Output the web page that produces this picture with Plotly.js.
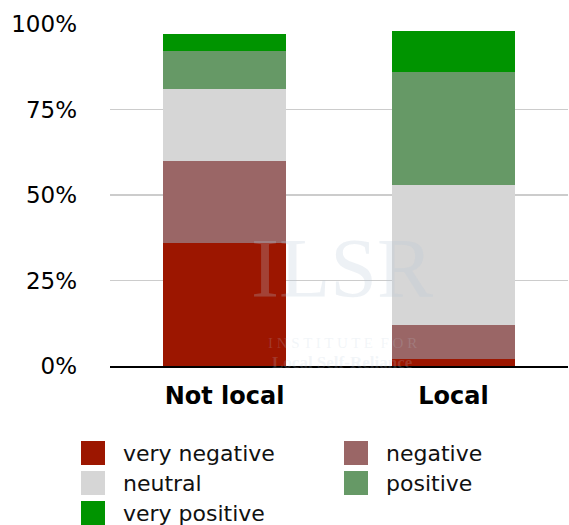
<!DOCTYPE html>
<html>
<head>
<meta charset="utf-8">
<script src="https://cdn.plot.ly/plotly-3.0.1.min.js"></script>
<style>html,body{margin:0;padding:0;background:#fff}#chart{width:569px;height:525px}</style>
</head>
<body>
<div id="chart"></div>
<script>
const categories = ["Not local", "Local"];
const seriesNames = ["very negative", "negative", "neutral", "positive", "very positive"];
const veryNegative = [36, 2];
const negative = [24, 10];
const neutral = [21, 41];
const positive = [11, 33];
const veryPositive = [5, 12];
const yTickVals = [0, 25, 50, 75, 100];
const yTickText = ["0%", "25%", "50%", "75%", "100%"];

const seriesValues = [veryNegative, negative, neutral, positive, veryPositive];
const colors = ["#9c1600", "#9a6666", "#d6d6d6", "#669966", "#009400"];

const traces = seriesNames.map((name, i) => ({
  type: "bar",
  name: name,
  x: categories,
  y: seriesValues[i],
  marker: { color: colors[i], line: { width: 0 } },
  hoverinfo: "none",
  showlegend: false
}));

// plot area geometry (pixels)
const L = 110, T = 24, W = 458, H = 342;
const px = v => (v - L) / W;
const py = v => (T + H - v) / H;

// custom legend (large swatches)
const shapes = [];
const annotations = [];
const legendPos = [
  [81, 441], [344, 441],
  [81, 471], [344, 471],
  [81, 501]
];
seriesNames.forEach((nm, si) => {
  const [lx, ly] = legendPos[si];
  shapes.push({
    type: "rect", xref: "paper", yref: "paper",
    x0: px(lx), x1: px(lx + 24), y0: py(ly + 24), y1: py(ly),
    fillcolor: colors[si], line: { width: 0 }
  });
  annotations.push({
    xref: "paper", yref: "paper", x: px(lx + 40), y: py(ly + 12),
    xanchor: "left", yanchor: "middle", showarrow: false,
    text: nm,
    font: { family: "DejaVu Sans, sans-serif", size: 22, color: "#111" }
  });
});

// faint watermark
annotations.push({
  xref: "paper", yref: "paper", x: px(342), y: py(268), xanchor: "center", yanchor: "middle",
  showarrow: false, text: "ILSR",
  font: { family: "Liberation Serif, serif", size: 84, color: "rgba(185,200,215,0.25)" }
});
annotations.push({
  xref: "paper", yref: "paper", x: px(342), y: py(343), xanchor: "center", yanchor: "middle",
  showarrow: false, text: "I N S T I T U T E  F O R",
  font: { family: "Liberation Serif, serif", size: 15, color: "rgba(190,205,220,0.2)" }
});
annotations.push({
  xref: "paper", yref: "paper", x: px(342), y: py(362), xanchor: "center", yanchor: "middle",
  showarrow: false, text: "<b>Local Self-Reliance</b>",
  font: { family: "Liberation Serif, serif", size: 17, color: "rgba(190,205,220,0.2)" }
});

const layout = {
  width: 569, height: 525,
  margin: { l: L, r: 569 - L - W, t: T, b: 525 - T - H, pad: 0 },
  paper_bgcolor: "#fff", plot_bgcolor: "#fff",
  barmode: "stack",
  bargap: 0.463,
  showlegend: false,
  xaxis: {
    type: "category",
    tickfont: { family: "DejaVu Sans, sans-serif", size: 24, color: "#000", weight: "bold" },
    showgrid: false, zeroline: false,
    showline: true, linecolor: "#000", linewidth: 2,
    ticks: "", ticklabelstandoff: 7,
    fixedrange: true
  },
  yaxis: {
    range: [0, 100],
    tickvals: yTickVals, ticktext: yTickText,
    tickfont: { family: "DejaVu Sans, sans-serif", size: 23, color: "#000" },
    showgrid: true, gridcolor: "#cccccc", gridwidth: 1.5,
    zeroline: false, showline: false, ticks: "",
    ticklabelstandoff: 32,
    fixedrange: true
  },
  shapes: shapes,
  annotations: annotations
};

Plotly.newPlot("chart", traces, layout, { displayModeBar: false, staticPlot: true });
</script>
</body>
</html>
